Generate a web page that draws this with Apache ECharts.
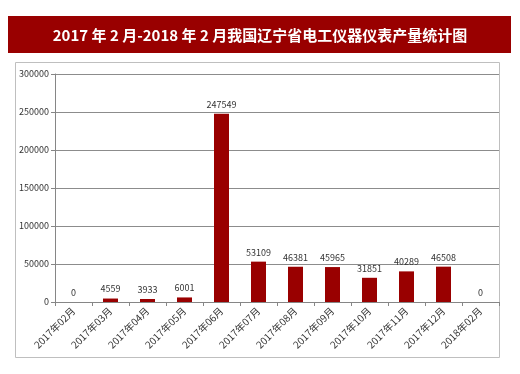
<!DOCTYPE html>
<html><head><meta charset="utf-8">
<script src="https://cdn.jsdelivr.net/npm/echarts@6/dist/echarts.min.js"></script>
<style>html,body{margin:0;padding:0;background:#fff}#c{width:520px;height:374px}</style>
</head><body><div id="c"></div>
<script>
const categories = ['2017年02月','2017年03月','2017年04月','2017年05月','2017年06月','2017年07月','2017年08月','2017年09月','2017年10月','2017年11月','2017年12月','2018年02月'];
const values = [0,4559,3933,6001,247549,53109,46381,45965,31851,40289,46508,0];
const yTicks = [0,50000,100000,150000,200000,250000,300000];
const titleText = '2017 年 2 月-2018 年 2 月我国辽宁省电工仪器仪表产量统计图';
const font = '"Noto Sans CJK SC","DejaVu Sans",sans-serif';
const chart = echarts.init(document.getElementById('c'));
chart.setOption({
  animation:false,
  backgroundColor:'#fff',
  graphic:[
    {type:'rect',shape:{x:8,y:16,width:503,height:37},style:{fill:'#990000'}},
    {type:'rect',shape:{x:15.5,y:62.5,width:484,height:295},style:{fill:'none',stroke:'#bfbfbf',lineWidth:1}},
    {type:'text',x:260,y:35,style:{text:titleText,fill:'#fff',font:'bold 15px '+font,textAlign:'center',textVerticalAlign:'middle'}}
  ],
  grid:{left:55,right:21,top:74,bottom:72},
  xAxis:{type:'category',data:categories,
    axisLine:{lineStyle:{color:'#868686'}},
    axisTick:{show:true,alignWithLabel:false,length:4,lineStyle:{color:'#868686'}},
    axisLabel:{rotate:45,fontSize:10,color:'#333',fontFamily:font,margin:7,interval:0}},
  yAxis:{type:'value',min:0,max:yTicks[yTicks.length-1],interval:50000,
    axisLine:{show:true,lineStyle:{color:'#868686'}},
    axisTick:{show:true,length:4,lineStyle:{color:'#868686'}},
    splitLine:{lineStyle:{color:'#8c8c8c'}},
    axisLabel:{fontSize:9,color:'#333',fontFamily:font,margin:6,formatter:function(v){return String(v);}}},
  series:[{type:'bar',data:values,barWidth:15,itemStyle:{color:'#990000'},
    label:{show:true,position:'top',fontSize:9,color:'#333',fontFamily:font,distance:5}}]
});
</script></body></html>
